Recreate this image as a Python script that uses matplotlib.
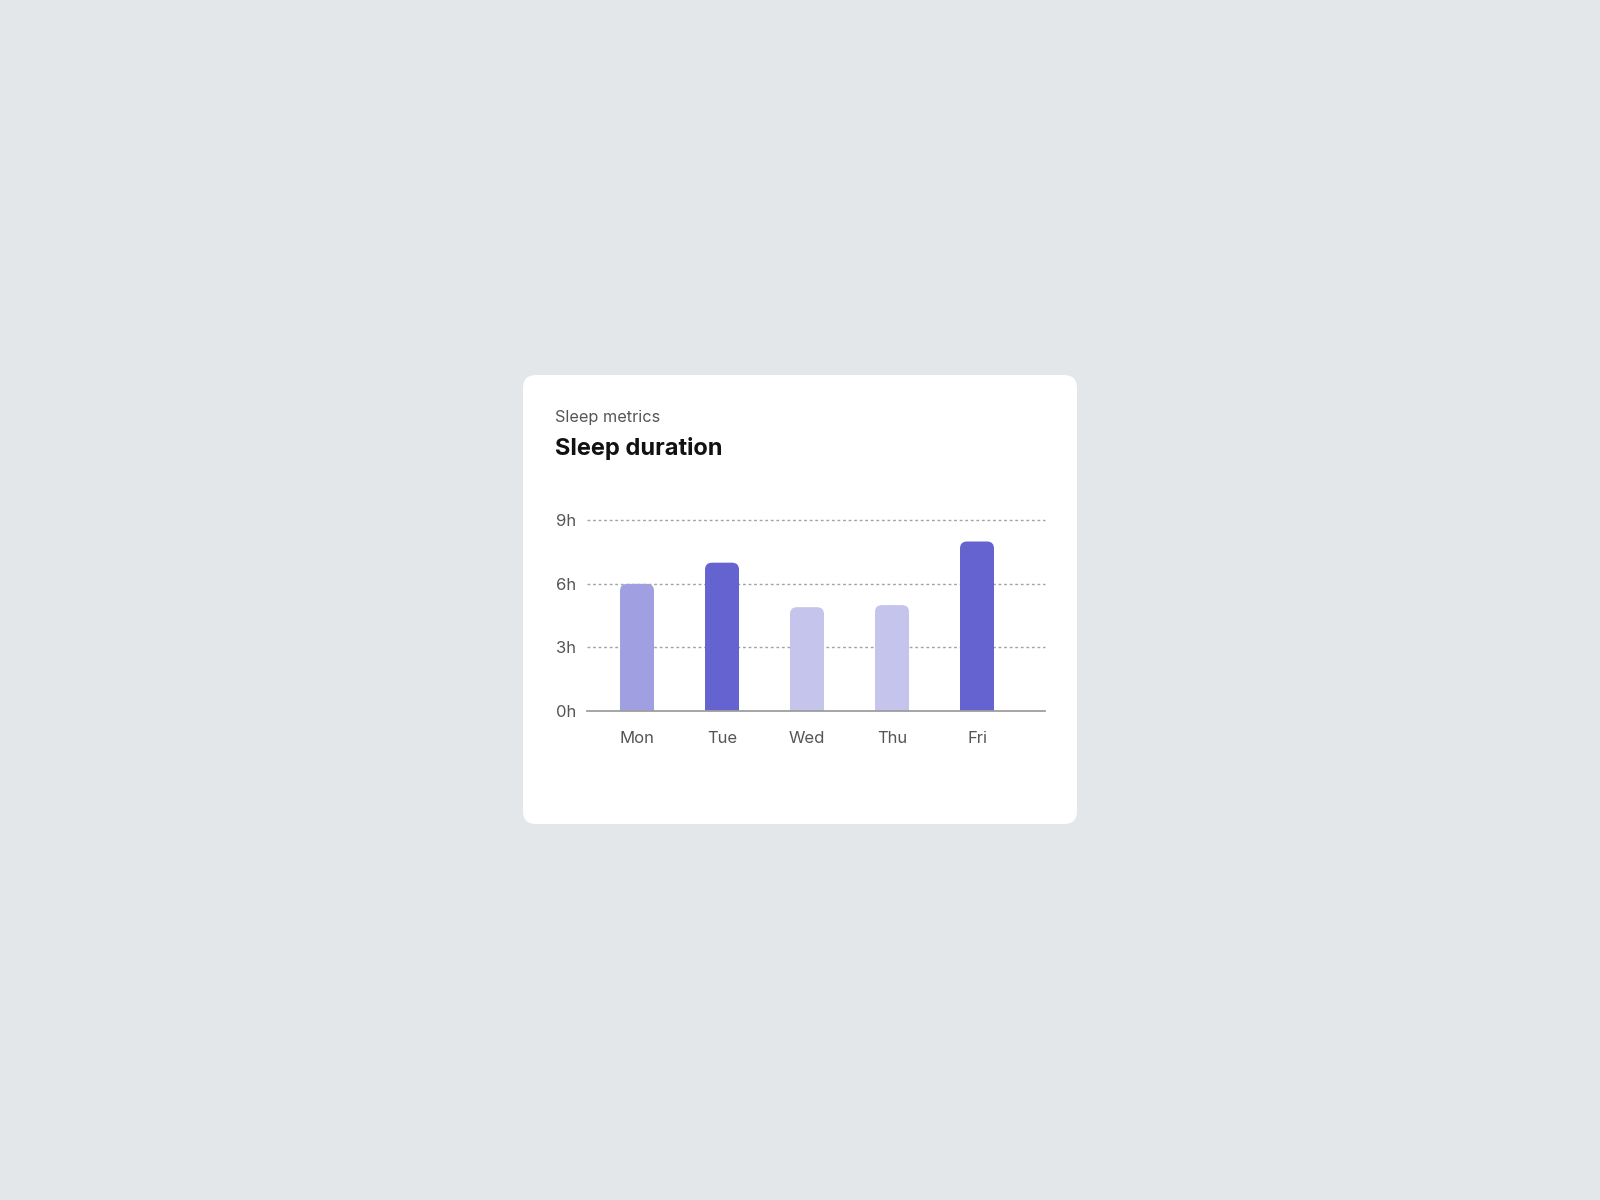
import matplotlib
matplotlib.use("Agg")
import matplotlib.pyplot as plt
from matplotlib.patches import FancyBboxPatch
from matplotlib.transforms import IdentityTransform

days = ["Mon", "Tue", "Wed", "Thu", "Fri"]
hours = [6.0, 7.0, 4.9, 5.0, 8.0]
bar_colors = ["#a09fe1", "#6563cf", "#c5c4ec", "#c5c4ec", "#6563cf"]
y_ticks = [0, 3, 6, 9]
y_tick_labels = ["0h", "3h", "6h", "9h"]
subtitle = "Sleep metrics"
title = "Sleep duration"

FONT = ["Inter", "DejaVu Sans"]
plt.rcParams["font.family"] = FONT

W, H = 1600, 1200
fig = plt.figure(figsize=(16, 12), dpi=100)
fig.patch.set_facecolor("#e3e7ea")

# card (pixel coords, origin bottom-left)
cx0, cx1 = 523, 1077
cy_top, cy_bot = 375, 824
card = FancyBboxPatch((cx0, H - cy_bot), cx1 - cx0, cy_bot - cy_top,
                      boxstyle="round,pad=0,rounding_size=13",
                      transform=IdentityTransform(), facecolor="white",
                      edgecolor="none", zorder=-10)
fig.patches.append(card)

fig.text(555 / W, 1 - 422 / H, subtitle, fontsize=11.7, color="#555555",
         ha="left", va="baseline")
fig.text(555 / W, 1 - 455 / H, title, fontsize=17, color="#111111",
         fontweight="bold", ha="left", va="baseline")

ax_l, ax_r = 586.7, 1045
ax_t, ax_b = 520.3, 711
ax = fig.add_axes([ax_l / W, 1 - ax_b / H, (ax_r - ax_l) / W, (ax_b - ax_t) / H])
ax.set_zorder(5)
ax.set_facecolor("none")
ax.set_xlim(-0.592, 4.8)
ax.set_ylim(0, 9)

x = list(range(len(days)))
bars = ax.bar(x, hours, width=0.4, color=bar_colors, zorder=3)

# convert to rounded-top bars
fig.canvas.draw()
px_per_x = (ax.transData.transform((1, 0))[0] - ax.transData.transform((0, 0))[0])
px_per_y = (ax.transData.transform((0, 1))[1] - ax.transData.transform((0, 0))[1])
r_px = 7.0
rx = r_px / px_per_x
ry = r_px / px_per_y
for b in bars:
    bx, bw, bh = b.get_x(), b.get_width(), b.get_height()
    fc = b.get_facecolor()
    b.set_visible(False)
    p = FancyBboxPatch((bx, -ry * 2), bw, bh + ry * 2,
                       boxstyle=f"round,pad=0,rounding_size={rx}",
                       mutation_aspect=ry / rx, facecolor=fc,
                       edgecolor="none", zorder=3, clip_on=True)
    ax.add_patch(p)

for yv in y_ticks[1:]:
    ax.axhline(yv, color="#a3a3a3", lw=1.0, ls=(0, (2, 2)), zorder=1,
               clip_on=False)
ax.axhline(0, color="#9e9e9e", lw=1.3, zorder=4, clip_on=False)

for s in ax.spines.values():
    s.set_visible(False)

ax.set_yticks(y_ticks)
ax.set_yticklabels(y_tick_labels)
ax.set_xticks(x)
ax.set_xticklabels(days)
ax.tick_params(axis="both", length=0, labelsize=12, labelcolor="#555555")
ax.tick_params(axis="y", pad=22.1)
ax.tick_params(axis="x", pad=14.5)
for t in ax.get_yticklabels():
    t.set_ha("left")

fig.savefig("out.png", dpi=100, facecolor=fig.get_facecolor())
